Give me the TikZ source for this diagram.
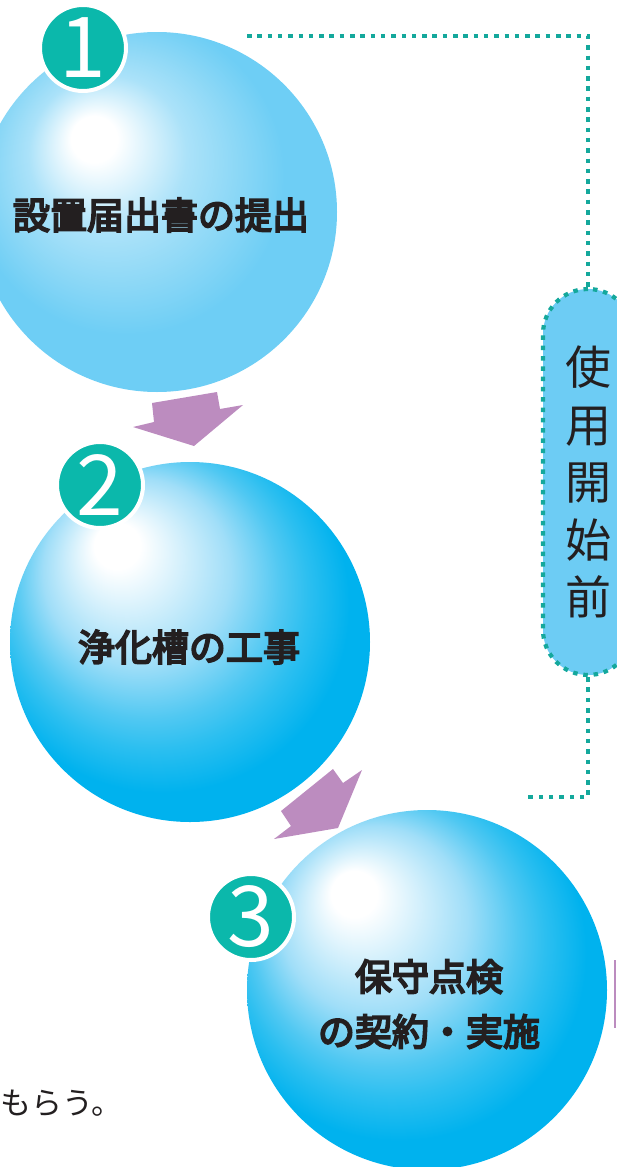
\documentclass[tikz,border=0pt]{standalone}
\usepackage{fontspec}
\newfontfamily\jp{Noto Sans CJK JP}
\newfontfamily\jpb[FakeBold=5]{Noto Sans CJK JP}
\definecolor{badgeteal}{HTML}{0BB8AB}
\definecolor{dotteal}{HTML}{14A89C}
\definecolor{pillblue}{HTML}{6DCCF4}
\definecolor{arrowpurple}{HTML}{BC8CBF}
\definecolor{ink}{HTML}{231F20}
% ball 1 (light sky blue)
\definecolor{aA}{HTML}{ABE2F9}
\definecolor{aB}{HTML}{8AD7F6}
\definecolor{aC}{HTML}{6ECEF5}
% balls 2,3 (cyan)
\definecolor{bA}{HTML}{A0DEF8}
\definecolor{bB}{HTML}{50C8F2}
\definecolor{bC}{HTML}{2CBFF0}
\definecolor{bD}{HTML}{00B2EE}
\pgfdeclareradialshading{ballA}{\pgfpoint{-9.5bp}{11bp}}{color(0bp)=(white); color(3.2bp)=(white); color(11bp)=(aA); color(17bp)=(aB); color(22bp)=(aC); color(40bp)=(aC)}
\pgfdeclareradialshading{ballB}{\pgfpoint{-11bp}{14.5bp}}{color(0bp)=(white); color(3.2bp)=(white); color(13bp)=(bA); color(18.5bp)=(bB); color(21.5bp)=(bC); color(26bp)=(bD); color(40bp)=(bD)}
\tikzset{
  ball/.style={circle, minimum size=360pt, inner sep=0pt},
  balltext/.style={inner sep=0pt, font=\jpb\fontsize{37}{55}\selectfont, text=ink, align=center},
  badge/.style={circle, minimum size=86pt, inner sep=0pt, fill=badgeteal, draw=white, line width=4pt, text=white, font=\jp\fontsize{84}{84}\selectfont},
  dots/.style={draw=dotteal, line width=4.2pt, dash pattern=on 4.5pt off 5.8pt},
  flowarrow/.style={fill=arrowpurple},
}
\begin{document}
\begin{tikzpicture}[x=1pt,y=-1pt]
\useasboundingbox (0,0) rectangle (617,1167);
\clip (0,0) rectangle (617,1167);
% bracket coordinates
\coordinate (tstart) at (247,36);
\coordinate (tend) at (527,797);
% pill
\node[draw=dotteal, line width=4.2pt, dash pattern=on 4.5pt off 5.8pt, fill=pillblue, rounded corners=45pt, minimum width=90pt, minimum height=386pt, inner sep=0pt, text=ink, align=center, font=\jp\fontsize{46}{57.5}\selectfont] (pill) at (588,482) {使\\用\\開\\始\\前};
\draw[dots] (tstart) -| (pill.north);
\draw[dots] (pill.south) |- (tend);
% circles
\node[ball, shading=ballA] (c1) at (157,212) {};
\node[ball, shading=ballB] (c2) at (190,642) {};
\node[ball, shading=ballB] (c3) at (427,990) {};
\node[balltext] (t1) at (161,215) {設置届出書の提出};
\node[balltext] (t2) at (189,647) {浄化槽の工事};
\node[balltext] (t3) at (429,1004) {保守点検\\の契約・実施};
% arrows
\fill[flowarrow] (152,403) -- (217,392) -- (220,409) -- (243,405) -- (194,446) -- (133,427) -- (154,422) -- cycle;
\fill[flowarrow] (281,811) -- (333,769) -- (343,783) -- (362,770) -- (338,828) -- (274,839) -- (291,826) -- cycle;
% badges
\node[badge] (b1) at (83,48) {1};
\node[badge] (b2) at (100,485) {2};
\node[badge] (b3) at (251,917) {3};
% bottom text
\node[anchor=west, inner sep=0pt, text=ink, font=\jp\fontsize{31}{31}\selectfont] (tail) at (0,1103) {もらう。};
% purple bar at right
\coordinate (pbtop) at (615,960);
\coordinate (pbbot) at (615,1028);
\draw[arrowpurple, line width=2.5pt] (pbtop) -- (pbbot);
\end{tikzpicture}
\end{document}
